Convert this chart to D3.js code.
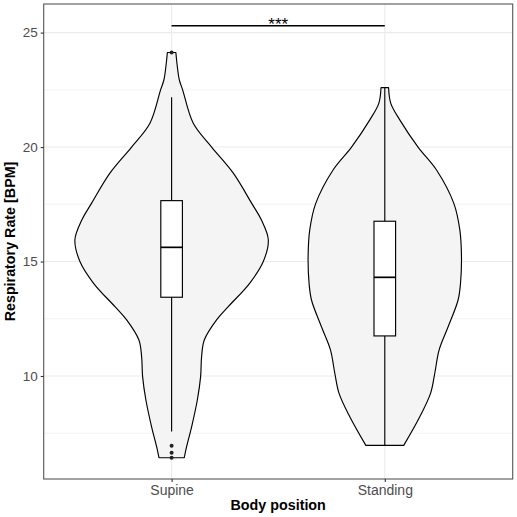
<!DOCTYPE html>
<html>
<head>
<meta charset="utf-8">
<script src="https://cdn.jsdelivr.net/npm/d3@7"></script>
<style>
  html, body { margin: 0; padding: 0; background: #fff; }
  svg { display: block; }
  text { font-family: "Liberation Sans", Arial, sans-serif; }
</style>
</head>
<body>
<script>
// ---------------- data ----------------
const categories = ["Supine", "Standing"];

// violin outlines: respiratory rate and relative density
const supineRR      = [24.13, 23.52, 22.93, 22.5, 21.04, 20.0, 18.86, 17.55, 16.8, 15.95, 15.0, 14.05, 13.03, 12.45, 11.57, 10.84, 9.97, 8.95, 7.78, 6.91, 6.43];
const supineDensity = [0.044, 0.059, 0.080, 0.114, 0.224, 0.414, 0.638, 0.827, 0.93, 1.0, 0.948, 0.807, 0.586, 0.465, 0.338, 0.310, 0.300, 0.266, 0.207, 0.155, 0.131];

const standingRR      = [22.6, 21.91, 21.19, 20.0, 19.0, 17.54, 16.38, 15.21, 14.05, 13.32, 12.15, 11.14, 10.12, 9.24, 8.22, 6.97];
const standingDensity = [0.039, 0.062, 0.155, 0.344, 0.535, 0.714, 0.776, 0.793, 0.783, 0.758, 0.655, 0.562, 0.517, 0.473, 0.362, 0.196];

// box plot statistics per category
const whiskerLow  = [7.57, 6.97];
const q1          = [13.44, 11.75];
const median      = [15.62, 14.31];
const q3          = [17.66, 16.76];
const whiskerHigh = [22.18, 22.6];

// outliers (Supine only)
const supineOutliers = [24.13, 6.95, 6.65, 6.43];

// axis ticks
const yTicks = [10, 15, 20, 25];
const yMinorTicks = [7.5, 12.5, 17.5, 22.5];

// significance annotation
const sigLabel = "***";
const sigY = 25.3;

// ---------------- layout ----------------
const W = 517, H = 517;
const panel = { left: 43.7, right: 512.7, top: 4, bottom: 479 };

const svg = d3.select("body").append("svg").attr("width", W).attr("height", H);

const x = d3.scalePoint().domain(categories).range([panel.left, panel.right]).padding(0.6);
const y = d3.scaleLinear().domain([5.5, 26.25]).range([panel.bottom, panel.top]);
const w = d3.scaleLinear().domain([0, 1]).range([0, 96.7]);
const boxHalf = 10.8;

// grid
const g = svg.append("g");
g.selectAll("line.minor").data(yMinorTicks).join("line")
  .attr("x1", panel.left).attr("x2", panel.right)
  .attr("y1", d => y(d)).attr("y2", d => y(d))
  .attr("stroke", "#EBEBEB").attr("stroke-width", 0.6);
g.selectAll("line.major").data(yTicks).join("line")
  .attr("x1", panel.left).attr("x2", panel.right)
  .attr("y1", d => y(d)).attr("y2", d => y(d))
  .attr("stroke", "#EBEBEB").attr("stroke-width", 1.1);
g.selectAll("line.vmajor").data(categories).join("line")
  .attr("x1", d => x(d)).attr("x2", d => x(d))
  .attr("y1", panel.top).attr("y2", panel.bottom)
  .attr("stroke", "#EBEBEB").attr("stroke-width", 1.1);

// violins
const violins = [
  { cat: "Supine", rr: supineRR, dens: supineDensity },
  { cat: "Standing", rr: standingRR, dens: standingDensity }
];
violins.forEach(v => {
  const cx = x(v.cat);
  const pts = v.rr.map((r, i) => ({ r, d: v.dens[i] })).sort((a, b) => b.r - a.r);
  const area = d3.area()
    .y(d => y(d.r))
    .x0(d => cx - w(d.d))
    .x1(d => cx + w(d.d))
    .curve(d3.curveCatmullRom.alpha(0.5));
  svg.append("path").datum(pts)
    .attr("d", area)
    .attr("fill", "#F4F4F4")
    .attr("stroke", "#000")
    .attr("stroke-width", 1.15)
    .attr("stroke-linejoin", "round");
});

// box plots
categories.forEach((c, i) => {
  const cx = x(c);
  svg.append("line")
    .attr("x1", cx).attr("x2", cx)
    .attr("y1", y(whiskerHigh[i])).attr("y2", y(q3[i]))
    .attr("stroke", "#000").attr("stroke-width", 1.15);
  svg.append("line")
    .attr("x1", cx).attr("x2", cx)
    .attr("y1", y(q1[i])).attr("y2", y(whiskerLow[i]))
    .attr("stroke", "#000").attr("stroke-width", 1.15);
  svg.append("rect")
    .attr("x", cx - boxHalf).attr("width", boxHalf * 2)
    .attr("y", y(q3[i])).attr("height", y(q1[i]) - y(q3[i]))
    .attr("fill", "#fff").attr("stroke", "#000").attr("stroke-width", 1.15);
  svg.append("line")
    .attr("x1", cx - boxHalf).attr("x2", cx + boxHalf)
    .attr("y1", y(median[i])).attr("y2", y(median[i]))
    .attr("stroke", "#000").attr("stroke-width", 1.7);
});

// outliers
svg.selectAll("circle.out").data(supineOutliers).join("circle")
  .attr("cx", x("Supine")).attr("cy", d => y(d)).attr("r", 2)
  .attr("fill", "#222");

// significance bar
svg.append("line")
  .attr("x1", x("Supine")).attr("x2", x("Standing"))
  .attr("y1", y(sigY)).attr("y2", y(sigY))
  .attr("stroke", "#000").attr("stroke-width", 1.4);
svg.append("text")
  .attr("x", (x("Supine") + x("Standing")) / 2)
  .attr("y", y(sigY) + 4.5)
  .attr("text-anchor", "middle")
  .attr("font-size", 17)
  .attr("fill", "#000")
  .text(sigLabel);

// panel border
svg.append("rect")
  .attr("x", panel.left).attr("y", panel.top)
  .attr("width", panel.right - panel.left).attr("height", panel.bottom - panel.top)
  .attr("fill", "none").attr("stroke", "#555").attr("stroke-width", 1.1);

// y axis
const yAxis = svg.append("g").attr("transform", `translate(${panel.left},0)`)
  .call(d3.axisLeft(y).tickValues(yTicks).tickSize(3).tickPadding(3));
yAxis.select(".domain").remove();
yAxis.selectAll(".tick line").attr("stroke", "#333").attr("stroke-width", 1.1);
yAxis.selectAll(".tick text").attr("fill", "#4D4D4D").attr("font-size", 13.5)
  .attr("font-family", '"Liberation Sans", Arial, sans-serif');

// x axis
const xAxis = svg.append("g").attr("transform", `translate(0,${panel.bottom})`)
  .call(d3.axisBottom(x).tickSize(3).tickPadding(3));
xAxis.select(".domain").remove();
xAxis.selectAll(".tick line").attr("stroke", "#333").attr("stroke-width", 1.1);
xAxis.selectAll(".tick text").attr("fill", "#4D4D4D").attr("font-size", 14)
  .attr("font-family", '"Liberation Sans", Arial, sans-serif');

// axis titles
svg.append("text")
  .attr("x", (panel.left + panel.right) / 2).attr("y", 510)
  .attr("text-anchor", "middle").attr("font-size", 14.3).attr("font-weight", "bold")
  .attr("fill", "#000").text("Body position");
svg.append("text")
  .attr("transform", `translate(15,${(panel.top + panel.bottom) / 2}) rotate(-90)`)
  .attr("text-anchor", "middle").attr("font-size", 14.3).attr("font-weight", "bold")
  .attr("fill", "#000").text("Respiratory Rate [BPM]");
</script>
</body>
</html>
